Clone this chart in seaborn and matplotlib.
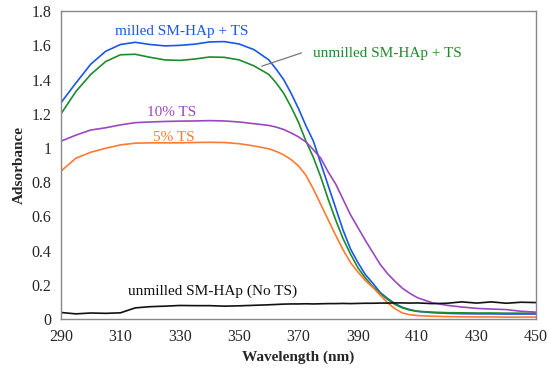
import matplotlib
matplotlib.use("Agg")
import matplotlib.pyplot as plt
from matplotlib.ticker import FormatStrFormatter, FuncFormatter
import pandas as pd
import seaborn as sns

# wavelengths (nm) shared by all spectra
wavelength = [290, 295, 300, 305, 310, 315, 320, 325, 330, 335, 340, 345, 350, 355, 360,
              362.5, 365, 367.5, 370, 372.5, 375, 377.5, 380, 382.5, 385, 387.5, 390,
              392.5, 395, 397.5, 400, 402.5, 405, 407.5, 410,
              415, 420, 425, 430, 435, 440, 445, 450]

milled_ts = [1.265, 1.38, 1.49, 1.565, 1.605, 1.618, 1.605, 1.597, 1.600, 1.607, 1.620, 1.622, 1.608, 1.575, 1.515,
             1.46, 1.40, 1.32, 1.23, 1.13, 1.04, 0.91, 0.78, 0.65, 0.52, 0.41, 0.33,
             0.26, 0.21, 0.155, 0.12, 0.09, 0.068, 0.055, 0.045,
             0.037, 0.033, 0.031, 0.030, 0.030, 0.029, 0.029, 0.029]

unmilled_ts = [1.20, 1.33, 1.43, 1.505, 1.545, 1.548, 1.53, 1.515, 1.512, 1.52, 1.532, 1.53, 1.515, 1.48, 1.43,
               1.38, 1.32, 1.24, 1.15, 1.04, 0.945, 0.83, 0.70, 0.58, 0.47, 0.38, 0.30,
               0.24, 0.19, 0.15, 0.115, 0.085, 0.065, 0.052, 0.045,
               0.040, 0.037, 0.036, 0.035, 0.035, 0.034, 0.034, 0.034]

ts_10 = [1.04, 1.075, 1.105, 1.118, 1.135, 1.148, 1.152, 1.155, 1.157, 1.158, 1.16, 1.158, 1.152, 1.142, 1.132,
         1.122, 1.108, 1.088, 1.065, 1.035, 0.99, 0.94, 0.86, 0.79, 0.70, 0.61, 0.535,
         0.46, 0.39, 0.32, 0.265, 0.22, 0.18, 0.15, 0.125,
         0.095, 0.08, 0.07, 0.062, 0.058, 0.055, 0.045, 0.04]

ts_5 = [0.865, 0.94, 0.975, 0.998, 1.018, 1.028, 1.03, 1.03, 1.03, 1.032, 1.033, 1.032, 1.025, 1.012, 0.995,
        0.98, 0.96, 0.932, 0.895, 0.84, 0.76, 0.67, 0.58, 0.49, 0.405, 0.33, 0.275,
        0.225, 0.185, 0.14, 0.095, 0.06, 0.035, 0.025, 0.02,
        0.016, 0.014, 0.013, 0.012, 0.012, 0.011, 0.011, 0.011]

unmilled_no_ts = [0.038, 0.03, 0.035, 0.033, 0.036, 0.065, 0.072, 0.075, 0.079, 0.078, 0.078, 0.075, 0.077, 0.08, 0.083,
                  0.085, 0.087, 0.088, 0.088, 0.089, 0.088, 0.089, 0.09, 0.09, 0.091, 0.09, 0.091,
                  0.092, 0.092, 0.093, 0.093, 0.094, 0.094, 0.093, 0.094,
                  0.09, 0.092, 0.1, 0.093, 0.1, 0.092, 0.098, 0.096]

series = ["milled SM-HAp + TS", "unmilled SM-HAp + TS", "10% TS", "5% TS", "unmilled SM-HAp (No TS)"]
colours = ["#1a56e8", "#1e8c2c", "#9a48c0", "#ff7a33", "#111111"]

df = pd.DataFrame({"wl": wavelength,
                   series[0]: milled_ts, series[1]: unmilled_ts,
                   series[2]: ts_10, series[3]: ts_5, series[4]: unmilled_no_ts})
long = df.melt(id_vars="wl", var_name="sample", value_name="abs")

sns.set_style("white")
plt.rcParams['font.family'] = ['Liberation Serif', 'DejaVu Serif']
plt.rcParams['font.size'] = 11

fig = plt.figure(figsize=(5.5, 3.72), dpi=100)
ax = fig.add_axes([0.111, 0.1425, 0.8635, 0.8275])

sns.lineplot(data=long, x="wl", y="abs", hue="sample", hue_order=series,
             palette=colours, linewidth=1.2, legend=False, ax=ax)

ax.set_xlim(290, 450)
ax.set_ylim(0, 1.8)
ax.set_xticks(range(290, 451, 20))
ax.set_yticks([0, 0.2, 0.4, 0.6, 0.8, 1.0, 1.2, 1.4, 1.6, 1.8])
ax.yaxis.set_major_formatter(FuncFormatter(lambda v, p: "%g" % round(v, 1)))
ax.tick_params(axis='both', direction='out', length=4, color='#888888', labelsize=11.5, pad=3)
for s in ax.spines.values():
    s.set_color('#888888')
    s.set_linewidth(1)

ax.set_xlabel("Wavelength (nm)", fontweight='bold', fontsize=11)
ax.set_ylabel("Adsorbance", fontweight='bold', fontsize=11)

# curve labels
ax.text(330.6, 1.68, series[0], color=colours[0], ha='center', va='center', fontsize=11)
ax.text(374.9, 1.552, series[1], color=colours[1], ha='left', va='center', fontsize=11)
ax.plot([371, 357.6], [1.556, 1.478], color='#777777', lw=0.9)
ax.text(327.3, 1.21, series[2], color=colours[2], ha='center', va='center', fontsize=11)
ax.text(328, 1.06, series[3], color=colours[3], ha='center', va='center', fontsize=11)
ax.text(312.7, 0.16, series[4], color=colours[4], ha='left', va='center', fontsize=11)

fig.savefig("out.png", dpi=100)
